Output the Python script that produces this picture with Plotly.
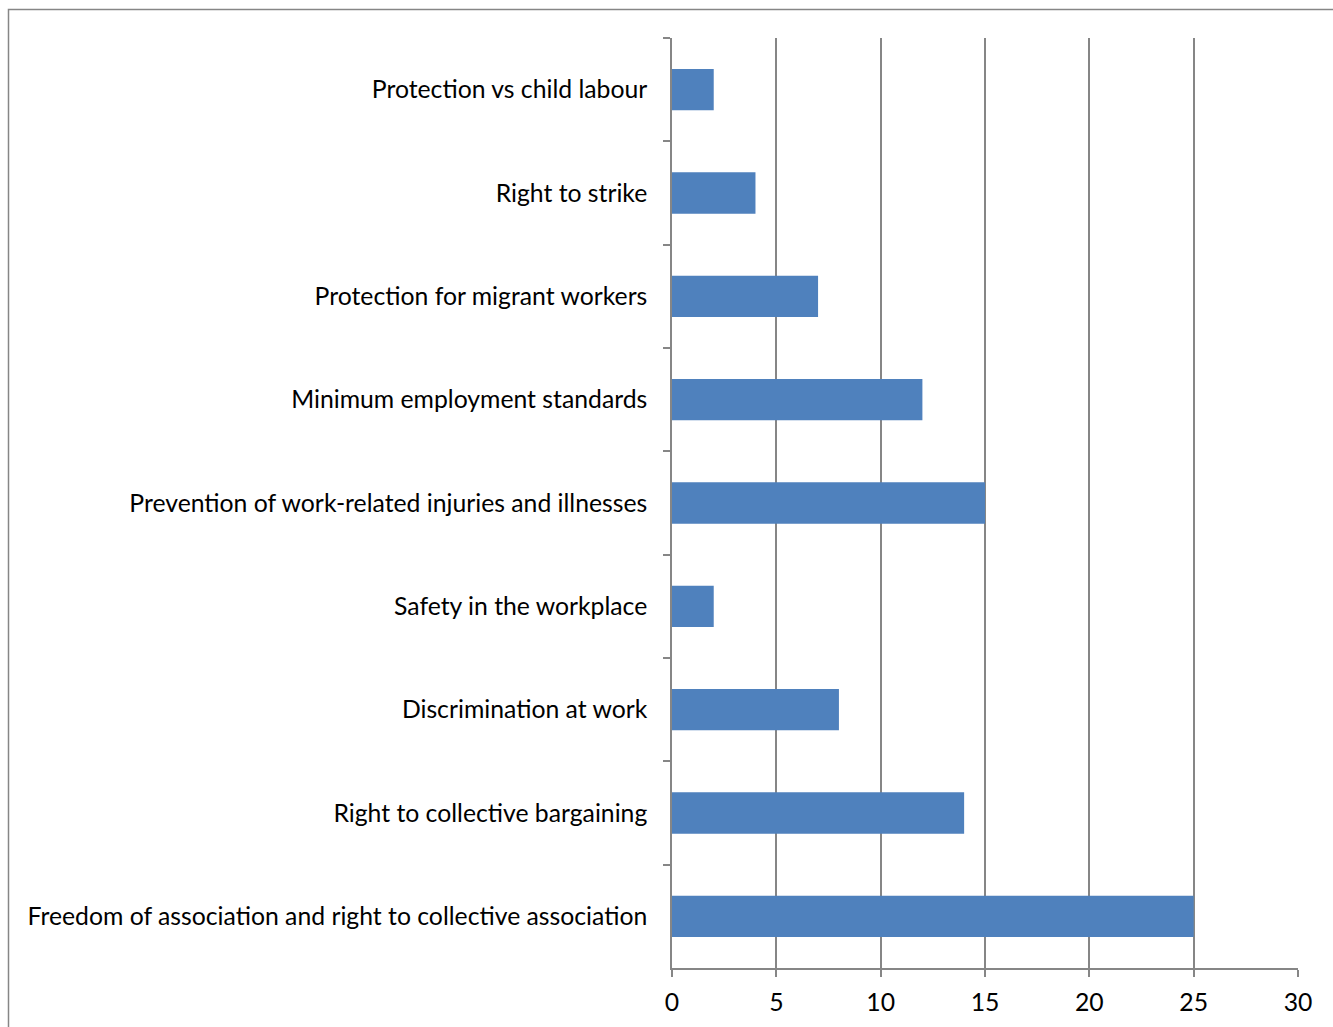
import plotly.graph_objects as go

# Categories listed top to bottom, with their counts
categories = [
    "Protection vs child labour",
    "Right to strike",
    "Protection for migrant workers",
    "Minimum employment standards",
    "Prevention of work-related injuries and illnesses",
    "Safety in the workplace",
    "Discrimination at work",
    "Right to collective bargaining",
    "Freedom of association and right to collective association",
]
values = [2, 4, 7, 12, 15, 2, 8, 14, 25]
x_ticks = [0, 5, 10, 15, 20, 25, 30]

W, H = 1333, 1027
L, R, T, B = 672, 35, 38, 59
plot_w = W - L - R
plot_h = H - T - B

AXIS_GREY = "#868686"
FONT = dict(family="Lato, Open Sans, sans-serif", size=24.75, color="#000000")

fig = go.Figure(
    go.Bar(
        x=values,
        y=categories,
        orientation="h",
        marker=dict(color="#4F81BD", line=dict(width=0)),
        width=0.4,
        hoverinfo="x+y",
    )
)

fig.update_layout(
    width=W,
    height=H,
    margin=dict(l=L, r=R, t=T, b=B, pad=0, autoexpand=False),
    paper_bgcolor="white",
    plot_bgcolor="white",
    font=FONT,
    showlegend=False,
    xaxis=dict(
        range=[0, 30],
        tickvals=x_ticks,
        ticks="outside",
        ticklen=7,
        tickcolor=AXIS_GREY,
        tickwidth=1.5,
        showgrid=True,
        gridcolor=AXIS_GREY,
        gridwidth=1.5,
        showline=True,
        linecolor=AXIS_GREY,
        linewidth=1.5,
        zeroline=False,
        automargin=False,
        ticklabelstandoff=5,
        tickfont=FONT,
    ),
    yaxis=dict(
        type="category",
        autorange="reversed",
        tickson="boundaries",
        ticks="outside",
        ticklen=7,
        tickcolor=AXIS_GREY,
        tickwidth=1.5,
        showgrid=False,
        showline=True,
        linecolor=AXIS_GREY,
        linewidth=1.5,
        zeroline=False,
        automargin=False,
        ticklabelstandoff=18,
        tickfont=FONT,
    ),
)

# Outer chart frame
x0 = (8.5 - L) / plot_w
y1 = (H - B - 9.5) / plot_h
fig.add_shape(
    type="rect",
    xref="paper",
    yref="paper",
    x0=x0,
    x1=1.2,
    y0=-0.2,
    y1=y1,
    line=dict(color=AXIS_GREY, width=1.5),
    layer="below",
)

fig.write_html("out.html")
